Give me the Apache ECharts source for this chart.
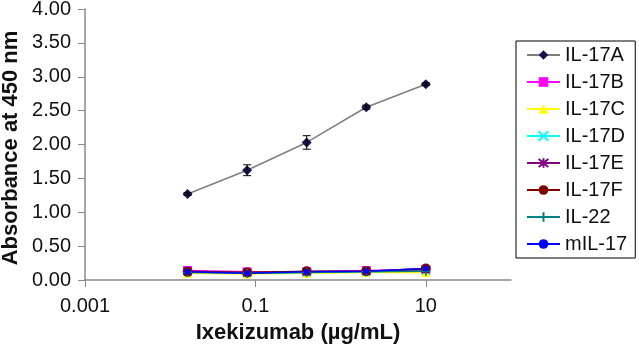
<!DOCTYPE html>
<html>
<head>
<meta charset="utf-8">
<script src="https://cdn.jsdelivr.net/npm/echarts@6/dist/echarts.min.js"></script>
<style>
  html, body { margin: 0; padding: 0; background: #fff; }
  #chart { width: 639px; height: 346px; }
</style>
</head>
<body>
<div id="chart"></div>
<script>
const doses = [0.016, 0.08, 0.4, 2, 10]

const il17a = [1.27, 1.62, 2.03, 2.55, 2.89]
const il17aErr = [0.02, 0.08, 0.10, 0.03, 0.02]
const il17b = [0.14, 0.12, 0.12, 0.14, 0.15]
const il17c = [0.10, 0.09, 0.10, 0.11, 0.11]
const il17d = [0.12, 0.10, 0.11, 0.12, 0.14]
const il17e = [0.13, 0.11, 0.12, 0.13, 0.15]
const il17f = [0.12, 0.11, 0.13, 0.13, 0.17]
const il22 = [0.11, 0.10, 0.11, 0.12, 0.13]
const mil17 = [0.12, 0.10, 0.12, 0.13, 0.17]

const xTicks = [0.001, 0.1, 10]
const xTickLabels = ['0.001', '0.1', '10']

const CROSS = 'path://M0,0L10,10M10,0L0,10'
const STAR = 'path://M0,0L10,10M10,0L0,10M5,-1L5,11'
const PLUS = 'path://M5,0L5,10M0,5L10,5'

const seriesDefs = [
  { name: 'IL-17A', data: il17a, color: '#14144a', line: '#7f7f7f', symbol: 'diamond', size: 10 },
  { name: 'IL-17B', data: il17b, color: '#ff00ff', line: '#ff00ff', symbol: 'rect', size: 9 },
  { name: 'IL-17C', data: il17c, color: '#ffff00', line: '#ffff00', symbol: 'triangle', size: 9 },
  { name: 'IL-17D', data: il17d, color: '#00ffff', line: '#00ffff', symbol: CROSS, size: 8, stroke: true },
  { name: 'IL-17E', data: il17e, color: '#800080', line: '#800080', symbol: STAR, size: 8, stroke: true },
  { name: 'IL-17F', data: il17f, color: '#800000', line: '#800000', symbol: 'circle', size: 10 },
  { name: 'IL-22', data: il22, color: '#008080', line: '#008080', symbol: PLUS, size: 9, stroke: true },
  { name: 'mIL-17', data: mil17, color: '#0000ff', line: '#0000ff', symbol: 'circle', size: 6 },
]

const chart = echarts.init(document.getElementById('chart'), null, { renderer: 'canvas' })

const series = seriesDefs.map(s => ({
  name: s.name,
  type: 'line',
  data: doses.map((d, i) => [d, s.data[i]]),
  symbol: s.symbol,
  symbolSize: s.size,
  lineStyle: { color: s.line, width: 1.5 },
  itemStyle: s.stroke
    ? { color: s.color, borderColor: s.color, borderWidth: 1.5 }
    : { color: s.color },
  z: s.name === 'IL-17A' ? 3 : 2,
}))

// error bars for IL-17A
series.push({
  name: 'err',
  type: 'custom',
  data: doses.map((d, i) => [d, il17a[i] - il17aErr[i], il17a[i] + il17aErr[i]]),
  renderItem: (params, api) => {
    const lo = api.coord([api.value(0), api.value(1)])
    const hi = api.coord([api.value(0), api.value(2)])
    const w = 4
    const style = { stroke: '#000', lineWidth: 1 }
    return {
      type: 'group',
      children: [
        { type: 'line', shape: { x1: lo[0], y1: lo[1], x2: hi[0], y2: hi[1] }, style },
        { type: 'line', shape: { x1: lo[0] - w, y1: lo[1], x2: lo[0] + w, y2: lo[1] }, style },
        { type: 'line', shape: { x1: hi[0] - w, y1: hi[1], x2: hi[0] + w, y2: hi[1] }, style },
      ],
    }
  },
  z: 4,
})

const FONT = 'Liberation Sans, Arial'

const option = {
  animation: false,
  grid: { left: 85, right: 128, top: 9, bottom: 66, outerBoundsMode: 'none', containLabel: false },
  legend: {
    data: seriesDefs.map(s => s.name),
    orient: 'vertical',
    left: 516,
    top: 41,
    width: 122,
    padding: [4, 8, 4, 10],
    itemWidth: 33,
    itemHeight: 12,
    itemGap: 7,
    borderColor: '#000',
    borderWidth: 1,
    textStyle: { fontFamily: FONT, fontSize: 20, color: '#111' },
  },
  xAxis: {
    type: 'log',
    logBase: 10,
    min: 0.001,
    max: 100,
    name: 'Ixekizumab (µg/mL)',
    nameLocation: 'middle',
    nameGap: 42,
    nameTextStyle: { fontFamily: FONT, fontSize: 22, fontWeight: 'bold', color: '#111' },
    axisLine: { lineStyle: { color: '#888', width: 1.5 } },
    axisTick: { show: true, length: 7, customValues: xTicks, lineStyle: { color: '#888' } },
    axisLabel: {
      fontFamily: FONT, fontSize: 20, color: '#111', margin: 16,
      customValues: xTicks,
      formatter: v => {
        const i = xTicks.findIndex(t => Math.abs(Math.log10(t) - Math.log10(v)) < 1e-6)
        return i >= 0 ? xTickLabels[i] : ''
      },
    },
    splitLine: { show: false },
  },
  yAxis: {
    type: 'value',
    min: 0,
    max: 4,
    interval: 0.5,
    axisLine: { show: true, lineStyle: { color: '#888', width: 1.5 } },
    axisTick: { show: true, length: 7, lineStyle: { color: '#888' } },
    axisLabel: {
      fontFamily: FONT, fontSize: 20, color: '#111', margin: 14,
      formatter: v => v.toFixed(2),
    },
    splitLine: { show: false },
  },
  graphic: [{
    type: 'text',
    x: 11,
    y: 148,
    rotation: Math.PI / 2,
    style: {
      text: 'Absorbance at 450 nm',
      font: 'bold 22px "Liberation Sans", Arial',
      fill: '#111',
      align: 'center',
      verticalAlign: 'middle',
    },
  }],
  series,
}

chart.setOption(option)
</script>
</body>
</html>
